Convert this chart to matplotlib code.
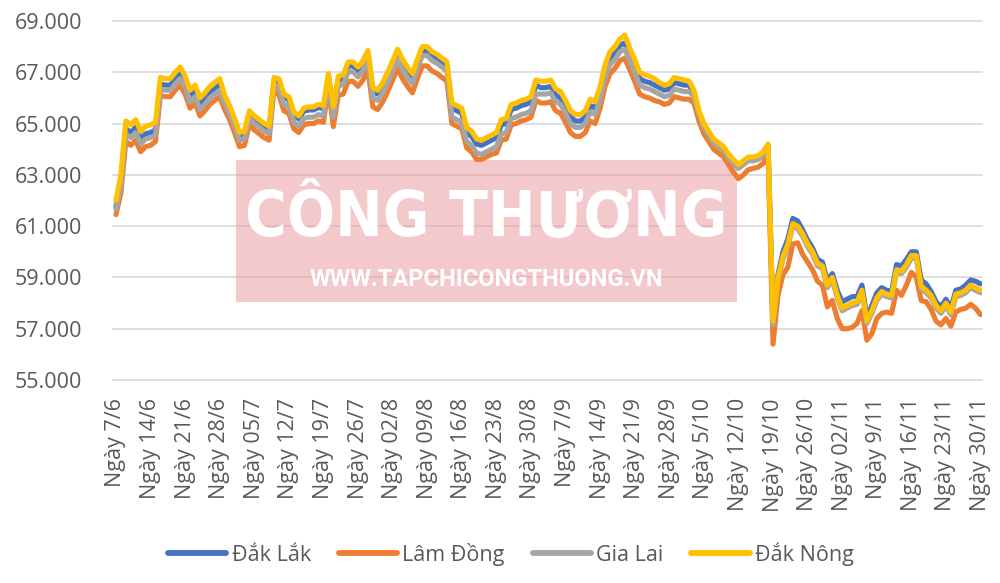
import matplotlib
matplotlib.use("Agg")
import matplotlib.pyplot as plt
from matplotlib import font_manager
from matplotlib.font_manager import FontProperties
from matplotlib.patches import Rectangle
from matplotlib.lines import Line2D
import numpy as np

# ---------------- data (thousand VND / kg) ----------------
x_labels = ["Ngày 7/6", "Ngày 14/6", "Ngày 21/6", "Ngày 28/6", "Ngày 05/7", "Ngày 12/7",
            "Ngày 19/7", "Ngày 26/7", "Ngày 02/8", "Ngày 09/8", "Ngày 16/8", "Ngày 23/8",
            "Ngày 30/8", "Ngày 7/9", "Ngày 14/9", "Ngày 21/9", "Ngày 28/9", "Ngày 5/10",
            "Ngày 12/10", "Ngày 19/10", "Ngày 26/10", "Ngày 02/11", "Ngày 9/11",
            "Ngày 16/11", "Ngày 23/11", "Ngày 30/11"]

series_names = ["Đắk Lắk", "Lâm Đồng", "Gia Lai", "Đắk Nông"]

dak_lak = [
    61.75, 62.75, 64.80, 64.65, 64.85, 64.40, 64.60, 64.65, 64.75, 66.55,
    66.50, 66.50, 66.75, 66.95, 66.60, 66.05, 66.25, 65.75, 65.95, 66.20,
    66.35, 66.50, 65.95, 65.55, 65.05, 64.50, 64.55, 65.35, 65.15, 65.00,
    64.85, 64.75, 66.70, 66.63, 66.03, 65.93, 65.33, 65.18, 65.48, 65.53,
    65.53, 65.63, 65.58, 66.85, 65.50, 66.70, 66.75, 67.25, 67.25, 67.05,
    67.30, 67.70, 66.25, 66.15, 66.45, 66.85, 67.30, 67.75, 67.35, 67.05,
    66.80, 67.33, 67.83, 67.83, 67.63, 67.53, 67.38, 67.23, 65.60, 65.50,
    65.40, 64.65, 64.50, 64.20, 64.15, 64.25, 64.35, 64.45, 64.95, 65.00,
    65.55, 65.60, 65.70, 65.75, 65.85, 66.50, 66.40, 66.40, 66.45, 66.10,
    66.00, 65.65, 65.25, 65.10, 65.10, 65.25, 65.70, 65.60, 66.20, 67.05,
    67.55, 67.75, 68.05, 68.15, 67.70, 67.25, 66.75, 66.65, 66.60, 66.50,
    66.40, 66.30, 66.35, 66.60, 66.55, 66.50, 66.50, 66.20, 65.45, 64.95,
    64.65, 64.35, 64.20, 64.05, 63.75, 63.55, 63.35, 63.50, 63.65, 63.65,
    63.70, 63.85, 64.15, 57.30, 59.10, 60.00, 60.50, 61.30, 61.20, 60.85,
    60.45, 60.15, 59.70, 59.60, 58.85, 59.15, 58.50, 58.05, 58.15, 58.25,
    58.25, 58.70, 57.45, 57.90, 58.40, 58.60, 58.50, 58.45, 59.50, 59.45,
    59.70, 60.00, 60.00, 58.90, 58.75, 58.45, 58.05, 57.85, 58.15, 57.80,
    58.50, 58.55, 58.70, 58.90, 58.85, 58.75]

lam_dong = [
    61.45, 62.30, 64.30, 64.15, 64.35, 63.90, 64.10, 64.15, 64.30, 66.10,
    66.05, 66.05, 66.30, 66.50, 66.15, 65.60, 65.80, 65.30, 65.50, 65.75,
    65.90, 66.05, 65.55, 65.15, 64.65, 64.10, 64.15, 64.95, 64.75, 64.60,
    64.45, 64.35, 66.40, 66.10, 65.50, 65.40, 64.80, 64.65, 64.95, 65.00,
    65.00, 65.10, 65.05, 66.40, 64.88, 66.10, 66.15, 66.65, 66.65, 66.45,
    66.70, 67.10, 65.65, 65.55, 65.85, 66.25, 66.70, 67.15, 66.75, 66.45,
    66.20, 66.75, 67.25, 67.25, 67.05, 66.95, 66.80, 66.65, 65.00, 64.90,
    64.80, 64.05, 63.90, 63.60, 63.60, 63.70, 63.80, 63.85, 64.35, 64.40,
    64.95, 65.00, 65.10, 65.15, 65.25, 65.90, 65.80, 65.80, 65.85, 65.50,
    65.40, 65.05, 64.65, 64.50, 64.50, 64.65, 65.10, 65.00, 65.60, 66.45,
    66.95, 67.15, 67.45, 67.55, 67.10, 66.65, 66.15, 66.05, 66.00, 65.90,
    65.85, 65.75, 65.80, 66.05, 66.00, 65.95, 65.95, 65.80, 65.10, 64.60,
    64.30, 64.00, 63.85, 63.70, 63.40, 63.10, 62.85, 63.00, 63.20, 63.25,
    63.30, 63.45, 63.80, 56.40, 58.30, 59.10, 59.40, 60.30, 60.35, 59.90,
    59.60, 59.30, 58.85, 58.70, 57.85, 58.10, 57.40, 57.00, 57.00, 57.05,
    57.20, 57.70, 56.55, 56.80, 57.40, 57.60, 57.65, 57.60, 58.50, 58.30,
    58.70, 59.20, 59.00, 58.10, 58.05, 57.75, 57.30, 57.15, 57.40, 57.10,
    57.65, 57.75, 57.80, 57.95, 57.80, 57.55]

gia_lai = [
    61.65, 62.55, 64.60, 64.45, 64.65, 64.20, 64.40, 64.45, 64.55, 66.35,
    66.30, 66.30, 66.55, 66.75, 66.40, 65.85, 66.05, 65.55, 65.75, 66.00,
    66.15, 66.30, 65.80, 65.40, 64.90, 64.35, 64.40, 65.20, 65.00, 64.85,
    64.70, 64.60, 66.55, 66.35, 65.75, 65.65, 65.05, 64.90, 65.20, 65.25,
    65.25, 65.35, 65.30, 66.60, 65.25, 66.47, 66.52, 67.02, 67.02, 66.82,
    67.07, 67.47, 66.00, 65.90, 66.20, 66.60, 67.05, 67.50, 67.10, 66.80,
    66.55, 67.15, 67.65, 67.65, 67.45, 67.35, 67.20, 67.05, 65.25, 65.15,
    65.05, 64.30, 64.15, 63.85, 63.80, 63.90, 64.00, 64.10, 64.60, 64.65,
    65.20, 65.25, 65.35, 65.40, 65.50, 66.15, 66.15, 66.15, 66.20, 65.85,
    65.75, 65.40, 65.00, 64.85, 64.85, 65.00, 65.45, 65.35, 65.95, 66.80,
    67.30, 67.50, 67.80, 67.90, 67.45, 67.00, 66.50, 66.40, 66.35, 66.25,
    66.15, 66.05, 66.10, 66.35, 66.30, 66.25, 66.25, 66.05, 65.35, 64.85,
    64.55, 64.25, 64.10, 63.95, 63.65, 63.45, 63.25, 63.40, 63.55, 63.55,
    63.60, 63.75, 64.05, 57.15, 58.90, 59.70, 60.20, 61.00, 60.90, 60.60,
    60.20, 59.90, 59.45, 59.35, 58.60, 58.90, 58.20, 57.70, 57.80, 57.90,
    57.95, 58.40, 57.20, 57.60, 58.10, 58.35, 58.25, 58.20, 59.20, 59.15,
    59.40, 59.75, 59.75, 58.55, 58.40, 58.20, 57.80, 57.60, 57.90, 57.55,
    58.25, 58.30, 58.40, 58.60, 58.50, 58.40]

dak_nong = [
    62.00, 63.00, 65.10, 64.95, 65.15, 64.70, 64.90, 64.95, 65.05, 66.80,
    66.75, 66.75, 67.00, 67.20, 66.85, 66.30, 66.50, 66.00, 66.20, 66.45,
    66.60, 66.75, 66.10, 65.70, 65.20, 64.65, 64.70, 65.50, 65.30, 65.15,
    65.00, 64.90, 66.80, 66.75, 66.15, 66.05, 65.45, 65.30, 65.60, 65.65,
    65.65, 65.75, 65.70, 66.95, 65.65, 66.85, 66.90, 67.40, 67.40, 67.20,
    67.45, 67.85, 66.40, 66.30, 66.60, 67.00, 67.45, 67.90, 67.50, 67.20,
    66.95, 67.50, 68.00, 68.00, 67.80, 67.70, 67.55, 67.40, 65.80, 65.70,
    65.60, 64.85, 64.70, 64.40, 64.35, 64.45, 64.55, 64.65, 65.15, 65.20,
    65.75, 65.80, 65.90, 65.95, 66.05, 66.70, 66.65, 66.65, 66.70, 66.35,
    66.25, 65.90, 65.50, 65.35, 65.35, 65.50, 65.95, 65.85, 66.45, 67.30,
    67.80, 68.00, 68.30, 68.45, 67.95, 67.50, 67.00, 66.90, 66.85, 66.75,
    66.60, 66.50, 66.55, 66.80, 66.75, 66.70, 66.65, 66.30, 65.50, 65.00,
    64.70, 64.40, 64.25, 64.10, 63.80, 63.60, 63.40, 63.55, 63.70, 63.70,
    63.75, 63.90, 64.20, 57.30, 59.00, 59.80, 60.30, 61.10, 61.00, 60.70,
    60.30, 60.00, 59.55, 59.45, 58.70, 59.00, 58.30, 57.80, 57.90, 58.00,
    58.05, 58.50, 57.30, 57.70, 58.20, 58.45, 58.35, 58.30, 59.30, 59.25,
    59.50, 59.85, 59.85, 58.65, 58.50, 58.30, 57.90, 57.70, 58.00, 57.65,
    58.35, 58.40, 58.50, 58.70, 58.60, 58.50]

y_ticks = [55, 57, 59, 61, 63, 65, 67, 69]
watermark_title = "CÔNG THƯƠNG"
watermark_url = "WWW.TAPCHICONGTHUONG.VN"

# ---------------- style ----------------
plt.rcParams['font.family'] = ['Open Sans', 'DejaVu Sans']
colors = ['#4472C4', '#ED7D31', '#A5A5A5', '#FFC000']
text_color = '#595959'
W, H = 1000, 583

fig = plt.figure(figsize=(W / 100, H / 100), dpi=100)
fig.patch.set_facecolor('white')
ax = fig.add_axes([113 / W, 1 - 380 / H, (982 - 113) / W, (380 - 21) / H])

xs = np.arange(len(dak_nong))
all_series = [dak_lak, lam_dong, gia_lai, dak_nong]
handles = []
for k, (vals, c) in enumerate(zip(all_series, colors)):
    ax.plot(xs, vals, color=c, lw=3.7, solid_joinstyle='round',
            solid_capstyle='round', zorder=3 + k)
    handles.append(Line2D([], [], color=c, lw=4.2, solid_capstyle='round'))

ax.set_xlim(-0.6, 175.3)
ax.set_ylim(55, 69)
ax.set_yticks(y_ticks)
ax.set_yticklabels([f"{v:.3f}" for v in y_ticks])
ax.set_xticks(np.arange(0, len(dak_nong), 7))
ax.set_xticklabels(x_labels, rotation=90)
ax.grid(axis='y', color='#D9D9D9', lw=1.2)
ax.grid(axis='x', visible=False)
ax.set_axisbelow(True)
for gl in ax.get_ygridlines():
    gl.set_clip_on(False)
for s in ax.spines.values():
    s.set_visible(False)
ax.tick_params(axis='both', length=0, colors=text_color, labelsize=15.5)
ax.tick_params(axis='y', pad=22)
ax.tick_params(axis='x', pad=13)

# ---------------- watermark ----------------
ax.add_patch(Rectangle((236 / W, 1 - 302 / H), (737 - 236) / W, (302 - 160) / H,
                       transform=fig.transFigure, facecolor='#EA9599', alpha=0.5,
                       edgecolor='none', zorder=1.5, clip_on=False))

# look for a narrow / condensed bold face for the big watermark word
narrow_fp = None
cands = []
for f in font_manager.fontManager.ttflist:
    nm = f.name.lower()
    st = str(f.stretch).lower()
    is_narrow = ('condensed' in nm or 'narrow' in nm or
                 st in ('condensed', 'semi-condensed', 'extra-condensed', 'ultra-condensed')
                 or st.isdigit() and int(st) < 500)
    if is_narrow:
        w = f.weight if isinstance(f.weight, int) else (700 if 'bold' in str(f.weight) else 400)
        cands.append((abs(w - 700), f.fname))
if cands:
    cands.sort()
    narrow_fp = FontProperties(fname=cands[0][1])
else:
    narrow_fp = FontProperties(family='Roboto', weight='black')

t1 = ax.text(486.5 / W, 1 - 219 / H, watermark_title, transform=fig.transFigure,
             ha='center', va='center', color='white', fontproperties=narrow_fp,
             zorder=1.6, clip_on=False)
t1.set_fontsize(50)
t2 = ax.text(486.5 / W, 1 - 279 / H, watermark_url, transform=fig.transFigure,
             ha='center', va='center', color='white', fontsize=17, fontweight='bold',
             family=['Roboto', 'DejaVu Sans'], zorder=1.6, clip_on=False)

fig.canvas.draw()
r = fig.canvas.get_renderer()
bb = t1.get_window_extent(r)
fs = 50 * 483 / bb.width
# do not let it grow taller than the reference lettering
fs = min(fs, 50 * 80 / bb.height)
t1.set_fontsize(fs)
bb2 = t2.get_window_extent(r)
if bb2.width > 483:
    t2.set_fontsize(17 * 483 / bb2.width)

# ---------------- legend ----------------
fig.legend(handles, series_names, loc='center', bbox_to_anchor=(0.511, 1 - 554 / H),
           ncol=4, frameon=False, fontsize=15.5, handlelength=2.7,
           handletextpad=0.25, columnspacing=1.3, labelcolor=text_color)

fig.savefig('out.png', dpi=100, facecolor='white')
